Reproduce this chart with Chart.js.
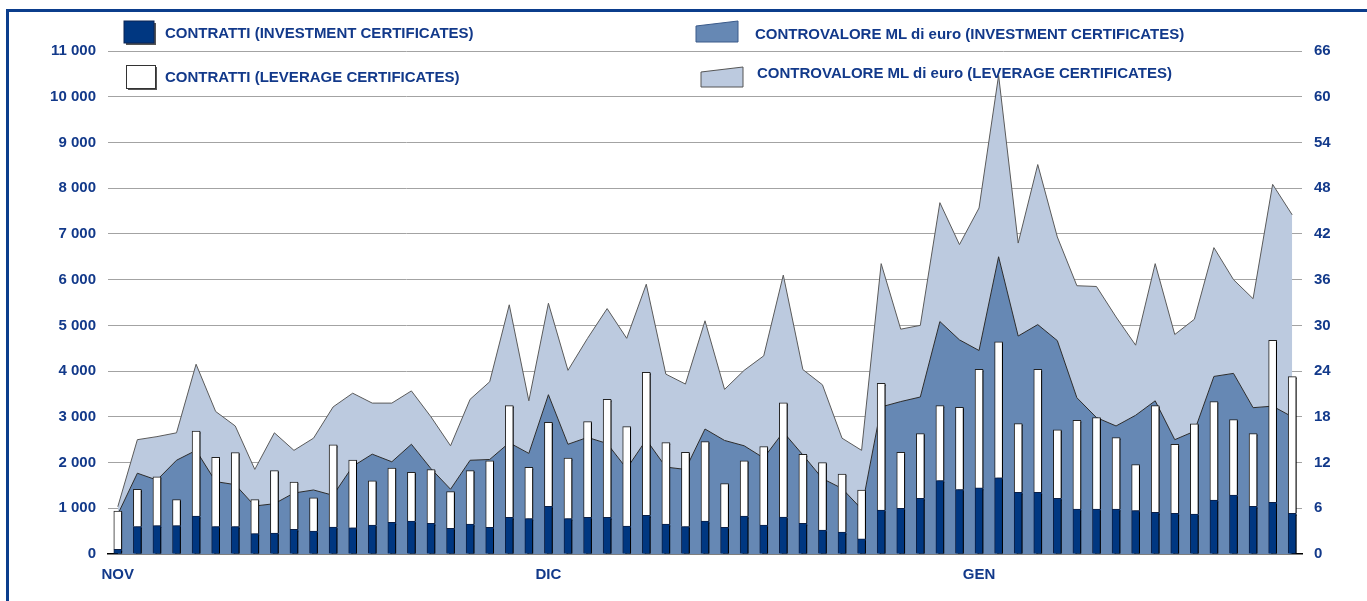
<!DOCTYPE html>
<html>
<head>
<meta charset="utf-8">
<script src="https://cdn.jsdelivr.net/npm/chart.js@4.4.1/dist/chart.umd.min.js"></script>
<style>
  body { margin: 0; width: 1367px; height: 601px; overflow: hidden; background: #fff; font-family: "Liberation Sans", Arial, sans-serif; }
  #frame { position: absolute; left: 6px; top: 9px; width: 1400px; height: 700px; border-left: 3px solid #0b3d8c; border-top: 3px solid #0b3d8c; }
  #wrap { position: absolute; left: 0; top: 0; width: 1367px; height: 601px; }
  .leg { position: absolute; font-weight: bold; font-size: 15px; color: #12398a; white-space: nowrap; line-height: 16px; }
  svg.sw { position: absolute; overflow: visible; }
</style>
</head>
<body>
<div id="frame"></div>
<div id="wrap"><canvas id="chart" width="1367" height="601"></canvas></div>

<svg class="sw" style="left:124px;top:21px" width="34" height="26">
  <rect x="2" y="2" width="30" height="22" fill="#555"/>
  <rect x="0" y="0" width="30" height="22" fill="#003781" stroke="#0b2455" stroke-width="1"/>
</svg>
<div class="leg" style="left:165px;top:25px">CONTRATTI (INVESTMENT CERTIFICATES)</div>

<svg class="sw" style="left:126px;top:65px" width="34" height="26">
  <rect x="2" y="2" width="29" height="23" fill="#555"/>
  <rect x="0.5" y="0.5" width="29" height="23" fill="#fff" stroke="#333" stroke-width="1"/>
</svg>
<div class="leg" style="left:165px;top:69px">CONTRATTI (LEVERAGE CERTIFICATES)</div>

<svg class="sw" style="left:695px;top:20px" width="46" height="24">
  <polygon points="1,6 43,1 43,22 1,22" fill="#6688b4" stroke="#3a5a8a" stroke-width="1"/>
</svg>
<div class="leg" style="left:755px;top:26px">CONTROVALORE ML di euro (INVESTMENT CERTIFICATES)</div>

<svg class="sw" style="left:700px;top:66px" width="46" height="24">
  <polygon points="1,6 43,1 43,21 1,21" fill="#bccadf" stroke="#555" stroke-width="1"/>
</svg>
<div class="leg" style="left:757px;top:65px">CONTROVALORE ML di euro (LEVERAGE CERTIFICATES)</div>

<script>
// month labels and the index of the first trading day of each month
const months = ['NOV', 'DIC', 'GEN'];
const monthStart = [0, 22, 44];
const nDays = 61;

// number of contracts (left axis)
const contrattiInvestment = [100, 600, 620, 620, 830, 600, 600, 445, 460, 540, 500, 590, 575, 635, 690, 720, 670, 560, 655, 585,
  800, 775, 1040, 775, 800, 800, 610, 845, 655, 600, 720, 585, 830, 635, 810, 670, 525, 480, 330, 963,
  1000, 1220, 1605, 1410, 1445, 1665, 1350, 1350, 1220, 985, 985, 985, 950, 910, 890, 875, 1180, 1290, 1045, 1130, 890];
const contrattiLeverage = [840, 815, 1070, 570, 1860, 1515, 1620, 745, 1365, 1035, 730, 1795, 1480, 965, 1190, 1065, 1175, 805, 1170, 1450,
  2445, 1120, 1840, 1320, 2095, 2585, 2175, 3130, 1780, 1625, 1740, 955, 1205, 1715, 2495, 1510, 1475, 1270, 1070, 2770,
  1225, 1415, 1640, 1800, 2595, 2975, 1500, 2690, 1495, 1940, 2000, 1560, 1005, 2335, 1510, 1970, 2155, 1650, 1590, 3540, 2990];

// traded value, millions of euro (right axis)
const controvaloreInvestment = [5.2, 10.6, 9.7, 12.3, 13.6, 9.5, 9.1, 6.3, 6.6, 8.0, 8.4, 7.7, 11.5, 13.1, 12.1, 14.4, 11.2, 8.5, 12.3, 12.4,
  14.6, 13.2, 20.9, 14.4, 15.3, 14.5, 11.2, 15.0, 11.4, 11.1, 16.4, 14.9, 14.2, 12.6, 16.0, 13.0, 9.9, 8.6, 5.9, 19.3,
  20.0, 20.6, 30.5, 28.1, 26.7, 39.0, 28.6, 30.1, 28.0, 20.5, 17.9, 16.8, 18.2, 20.1, 15.0, 16.1, 23.3, 23.7, 19.2, 19.4, 18.0];
const controvaloreLeverage = [1.0, 4.4, 5.7, 3.6, 11.3, 9.2, 7.7, 4.8, 9.3, 5.6, 6.8, 11.6, 9.6, 6.7, 7.7, 7.0, 6.8, 5.7, 8.0, 10.2,
  18.1, 6.9, 12.0, 9.7, 13.0, 17.7, 17.1, 20.4, 12.2, 11.2, 14.2, 6.7, 9.9, 13.4, 20.6, 11.2, 12.3, 6.6, 7.7, 18.8,
  9.5, 9.4, 15.6, 12.5, 18.7, 23.8, 12.2, 21.0, 13.6, 14.7, 17.2, 14.3, 9.2, 18.0, 13.8, 14.7, 16.9, 12.3, 14.3, 29.1, 26.5];

const categories = [];
for (let i = 0; i < nDays; i++) {
  const m = monthStart.indexOf(i);
  categories.push(m >= 0 ? months[m] : '');
}

const textBlue = '#12398a';
const fmt = v => String(v).replace(/\B(?=(\d{3})+(?!\d))/g, ' ');

// black drop shadow on the right side of the bars
const barShadow = {
  id: 'barShadow',
  beforeDatasetDraw(chart, args) {
    if (args.meta.type !== 'bar') return;
    const ctx = chart.ctx;
    ctx.save();
    ctx.shadowColor = '#000';
    ctx.shadowOffsetX = 2.5;
    ctx.shadowOffsetY = 1;
    ctx.shadowBlur = 0;
  },
  afterDatasetDraw(chart, args) {
    if (args.meta.type !== 'bar') return;
    chart.ctx.restore();
  }
};

new Chart(document.getElementById('chart').getContext('2d'), {
  data: {
    labels: categories,
    datasets: [
      {
        type: 'bar',
        label: 'CONTRATTI (INVESTMENT CERTIFICATES)',
        data: contrattiInvestment,
        yAxisID: 'y',
        stack: 'contratti',
        backgroundColor: '#003781',
        borderColor: '#0b1f45',
        borderWidth: 1,
        barThickness: 8
      },
      {
        type: 'bar',
        label: 'CONTRATTI (LEVERAGE CERTIFICATES)',
        data: contrattiLeverage,
        yAxisID: 'y',
        stack: 'contratti',
        backgroundColor: '#ffffff',
        borderColor: '#222',
        borderWidth: 1,
        barThickness: 8
      },
      {
        type: 'line',
        label: 'CONTROVALORE ML di euro (INVESTMENT CERTIFICATES)',
        data: controvaloreInvestment,
        yAxisID: 'y1',
        stack: 'controvalore',
        fill: 'origin',
        backgroundColor: '#6688b4',
        borderColor: '#2b2b2b',
        borderWidth: 1,
        pointRadius: 0,
        tension: 0
      },
      {
        type: 'line',
        label: 'CONTROVALORE ML di euro (LEVERAGE CERTIFICATES)',
        data: controvaloreLeverage,
        yAxisID: 'y1',
        stack: 'controvalore',
        fill: '-1',
        backgroundColor: '#bccadf',
        borderColor: '#5a5a5a',
        borderWidth: 1,
        pointRadius: 0,
        tension: 0
      }
    ]
  },
  options: {
    responsive: false,
    animation: false,
    layout: { padding: { top: 51, left: 0, right: 0, bottom: 0 } },
    plugins: {
      legend: { display: false },
      tooltip: { enabled: false }
    },
    scales: {
      x: {
        stacked: true,
        offset: true,
        grid: { display: false, drawTicks: false },
        border: { display: true, color: '#000', width: 1.5 },
        ticks: {
          autoSkip: false,
          maxRotation: 0,
          padding: 12,
          color: textBlue,
          font: { family: 'Liberation Sans', weight: 'bold', size: 15 },
          callback: (v, i) => categories[i]
        },
        afterFit: s => { s.height = 47; }
      },
      y: {
        position: 'left',
        stacked: true,
        min: 0,
        max: 11000,
        grid: {
          drawTicks: false,
          color: c => c.tick.value === 0 ? 'rgba(0,0,0,0)' : '#a3a3a3',
          lineWidth: 1
        },
        border: { display: false },
        ticks: {
          stepSize: 1000,
          padding: 12,
          color: textBlue,
          font: { family: 'Liberation Sans', weight: 'bold', size: 15 },
          callback: v => fmt(v)
        },
        afterFit: s => { s.width = 108; }
      },
      y1: {
        position: 'right',
        stacked: true,
        min: 0,
        max: 66,
        grid: { display: false, drawTicks: false },
        border: { display: false },
        ticks: {
          stepSize: 6,
          padding: 12,
          color: textBlue,
          font: { family: 'Liberation Sans', weight: 'bold', size: 15 }
        },
        afterFit: s => { s.width = 65; }
      }
    }
  },
  plugins: [barShadow]
});
</script>
</body>
</html>
